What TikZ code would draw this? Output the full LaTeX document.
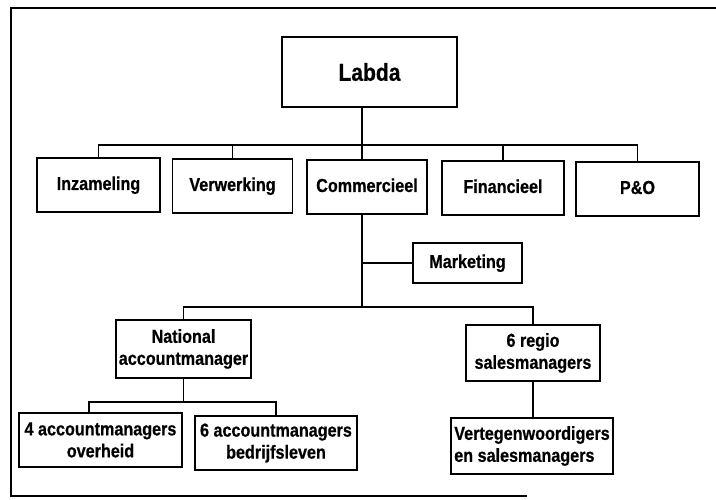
\documentclass[tikz,border=0pt]{standalone}
\usepackage{fontspec}
\setmainfont{Liberation Sans}[FakeStretch=0.86, BoldFeatures={FakeBold=0.6}]
\begin{document}
\begin{tikzpicture}[x=1pt,y=-1pt,
  unit/.style={draw, line width=1.6pt, inner sep=2pt, align=center,
    font=\fontsize{18.8}{22}\selectfont\bfseries},
  one/.style={text height=14pt, text depth=4pt},
  conn/.style={line width=1.4pt},
  frame/.style={line width=1.8pt}]
\useasboundingbox (0,0) rectangle (716,500);

% outer frame
\draw[frame] (716,8) -- (11,8) -- (11,496) -- (527,496);

% top
\node[unit, minimum width=175pt, minimum height=70pt,
  font=\fontsize{24.5}{29}\selectfont\bfseries] (labda) at (369.5,72) {Labda};

% departments
\node[unit, one, minimum width=123pt, minimum height=54pt] (inz) at (98.5,185) {Inzameling};
\node[unit, one, minimum width=120pt, minimum height=54pt] (ver) at (232.5,186) {Verwerking};
\node[unit, one, minimum width=120pt, minimum height=54pt] (comm) at (367,187) {Commercieel};
\node[unit, one, minimum width=122pt, minimum height=54pt] (fin) at (503,188) {Financieel};
\node[unit, one, minimum width=123pt, minimum height=54pt] (pno) at (637.5,189) {P\&O};

% commercial branch
\node[unit, one, minimum width=109pt, minimum height=40pt] (mkt) at (467.5,263) {Marketing};
\node[unit, minimum width=135pt, minimum height=58pt] (nat) at (183.5,349) {National\\accountmanager};
\node[unit, minimum width=134pt, minimum height=56pt] (reg) at (533,353) {6 regio\\salesmanagers};
\node[unit, minimum width=163pt, minimum height=54pt] (acc4) at (100.5,440) {4 accountmanagers\\overheid};
\node[unit, minimum width=162pt, minimum height=54pt] (acc6) at (276,443) {6 accountmanagers\\bedrijfsleven};
\node[unit, minimum width=162pt, minimum height=56pt, align=left] (vert) at (532,446) {Vertegenwoordigers\\en salesmanagers};

% junction points
\coordinate (j1) at (362,145);
\coordinate (j2) at (362,263);
\coordinate (j3) at (362,307);
\coordinate (j4) at (184,402);
\coordinate (j5) at (89,402);

% connectors
\draw[conn] (labda.south -| j1) -- (comm.north -| j1);
\draw[conn] (inz.north) |- (j1) -| (pno.north);
\draw[conn] (ver.north) -- (ver.north |- j1);
\draw[conn] (fin.north) -- (fin.north |- j1);
\draw[conn] (comm.south -| j3) -- (j3);
\draw[conn] (j2) -- (mkt.west);
\draw[conn] (nat.north) |- (j3) -| (reg.north);
\draw[conn] (nat.south) -- (nat.south |- j4);
\draw[conn] (acc4.north -| j5) -- (j5) -| (acc6.north);
\draw[conn] (reg.south) -- (reg.south |- vert.north);
\end{tikzpicture}
\end{document}
